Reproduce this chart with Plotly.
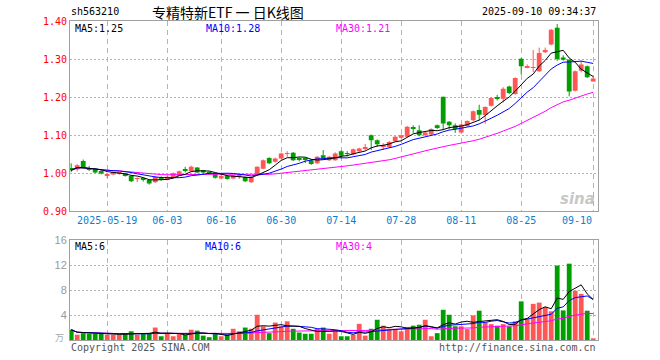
import plotly.graph_objects as go
import pandas as pd

# ---------------- data ----------------
dates = [
    "2025-05-09", "2025-05-12", "2025-05-13", "2025-05-14", "2025-05-15", "2025-05-16",
    "2025-05-19", "2025-05-20", "2025-05-21", "2025-05-22", "2025-05-23",
    "2025-05-26", "2025-05-27", "2025-05-28", "2025-05-29", "2025-05-30",
    "2025-06-03", "2025-06-04", "2025-06-05", "2025-06-06",
    "2025-06-09", "2025-06-10", "2025-06-11", "2025-06-12", "2025-06-13",
    "2025-06-16", "2025-06-17", "2025-06-18", "2025-06-19", "2025-06-20",
    "2025-06-23", "2025-06-24", "2025-06-25", "2025-06-26", "2025-06-27",
    "2025-06-30", "2025-07-01", "2025-07-02", "2025-07-03", "2025-07-04",
    "2025-07-07", "2025-07-08", "2025-07-09", "2025-07-10", "2025-07-11",
    "2025-07-14", "2025-07-15", "2025-07-16", "2025-07-17", "2025-07-18",
    "2025-07-21", "2025-07-22", "2025-07-23", "2025-07-24", "2025-07-25",
    "2025-07-28", "2025-07-29", "2025-07-30", "2025-07-31", "2025-08-01",
    "2025-08-04", "2025-08-05", "2025-08-06", "2025-08-07", "2025-08-08",
    "2025-08-11", "2025-08-12", "2025-08-13", "2025-08-14", "2025-08-15",
    "2025-08-18", "2025-08-19", "2025-08-20", "2025-08-21", "2025-08-22",
    "2025-08-25", "2025-08-26", "2025-08-27", "2025-08-28", "2025-08-29",
    "2025-09-01", "2025-09-02", "2025-09-03", "2025-09-04", "2025-09-05",
    "2025-09-08", "2025-09-09", "2025-09-10",
]

open_ = [
    1.014, 1.010, 1.032, 1.013, 1.012, 1.006, 0.994, 0.997, 0.998, 0.999,
    0.993, 0.985, 0.985, 0.982, 0.976, 0.990, 0.983, 0.988, 0.993, 1.010,
    1.005, 1.015, 1.008, 1.002, 0.999, 0.986, 0.993, 0.986, 0.991, 0.990,
    0.976, 0.997, 1.012, 1.040, 1.030, 1.039, 1.051, 1.054, 1.038, 1.038,
    1.034, 1.026, 1.047, 1.034, 1.034, 1.058, 1.053, 1.049, 1.058, 1.065,
    1.100, 1.087, 1.070, 1.069, 1.084, 1.093, 1.096, 1.119, 1.113, 1.100,
    1.102, 1.126, 1.201, 1.135, 1.126, 1.107, 1.124, 1.139, 1.166, 1.153,
    1.177, 1.200, 1.196, 1.228, 1.208, 1.301, 1.279, 1.277, 1.268, 1.318,
    1.338, 1.382, 1.304, 1.298, 1.217, 1.269, 1.281, 1.241,
]
high = [
    1.026, 1.024, 1.036, 1.019, 1.013, 1.008, 0.999, 1.004, 1.003, 1.001,
    0.995, 0.989, 0.988, 0.983, 0.992, 0.992, 0.993, 1.002, 1.007, 1.017,
    1.020, 1.016, 1.009, 1.005, 1.000, 0.995, 0.995, 0.996, 0.997, 0.991,
    0.991, 1.018, 1.036, 1.042, 1.041, 1.054, 1.058, 1.056, 1.042, 1.041,
    1.036, 1.045, 1.061, 1.045, 1.055, 1.060, 1.058, 1.065, 1.067, 1.077,
    1.102, 1.089, 1.079, 1.085, 1.098, 1.102, 1.124, 1.126, 1.126, 1.109,
    1.118, 1.128, 1.201, 1.137, 1.131, 1.130, 1.139, 1.165, 1.180, 1.176,
    1.200, 1.206, 1.226, 1.230, 1.252, 1.303, 1.286, 1.324, 1.330, 1.330,
    1.379, 1.392, 1.310, 1.300, 1.270, 1.296, 1.283, 1.256,
]
low = [
    1.003, 1.005, 1.012, 1.006, 1.000, 0.997, 0.987, 0.995, 0.996, 0.991,
    0.977, 0.977, 0.978, 0.970, 0.975, 0.980, 0.981, 0.986, 0.992, 1.002,
    1.003, 1.000, 1.000, 0.997, 0.986, 0.984, 0.983, 0.984, 0.985, 0.977,
    0.974, 0.996, 1.011, 1.024, 1.028, 1.038, 1.043, 1.032, 1.031, 1.027,
    1.022, 1.024, 1.036, 1.032, 1.033, 1.039, 1.044, 1.047, 1.056, 1.060,
    1.061, 1.069, 1.061, 1.067, 1.082, 1.091, 1.094, 1.105, 1.097, 1.098,
    1.100, 1.116, 1.113, 1.115, 1.106, 1.105, 1.122, 1.137, 1.139, 1.130,
    1.175, 1.191, 1.186, 1.208, 1.206, 1.259, 1.276, 1.266, 1.266, 1.316,
    1.336, 1.295, 1.296, 1.202, 1.215, 1.265, 1.250, 1.241,
]
close = [
    1.008, 1.021, 1.014, 1.011, 1.002, 0.999, 0.996, 1.003, 1.001, 0.993,
    0.979, 0.987, 0.983, 0.973, 0.990, 0.982, 0.991, 1.000, 1.005, 1.008,
    1.017, 1.002, 1.002, 1.000, 0.988, 0.993, 0.985, 0.995, 0.993, 0.979,
    0.990, 1.017, 1.034, 1.026, 1.039, 1.052, 1.053, 1.034, 1.036, 1.036,
    1.024, 1.043, 1.039, 1.043, 1.052, 1.046, 1.051, 1.063, 1.065, 1.067,
    1.087, 1.076, 1.072, 1.082, 1.096, 1.100, 1.122, 1.117, 1.100, 1.107,
    1.116, 1.119, 1.131, 1.126, 1.116, 1.128, 1.137, 1.163, 1.154, 1.174,
    1.198, 1.197, 1.222, 1.211, 1.250, 1.281, 1.282, 1.279, 1.316, 1.324,
    1.377, 1.300, 1.298, 1.215, 1.268, 1.286, 1.252, 1.249,
]
volume = [
    1.65, 0.85, 1.1, 1.0, 1.0, 1.0, 0.85, 0.85, 0.85, 1.1,
    1.4, 0.85, 1.0, 1.0, 2.0, 0.6, 1.0, 0.6, 1.0, 0.85,
    1.65, 1.5, 0.7, 0.45, 1.0, 0.6, 0.85, 1.8, 1.4, 2.0,
    1.8, 4.05, 2.2, 1.1, 2.8, 2.2, 3.0, 1.8, 1.2, 1.0,
    1.0, 1.8, 2.0, 1.0, 1.5, 0.6, 0.6, 0.85, 2.6, 0.7,
    1.8, 3.25, 2.3, 1.8, 1.8, 1.4, 2.1, 2.3, 2.45, 3.25,
    0.6, 1.1, 4.85, 4.05, 2.2, 2.2, 1.75, 3.95, 4.7, 2.8,
    2.55, 2.3, 2.55, 2.2, 3.0, 6.2, 3.35, 5.8, 6.0, 5.3,
    4.6, 11.95, 4.75, 12.25, 7.9, 7.4, 4.7, 0.2,
]

tick_dates = ["2025-05-19", "2025-06-03", "2025-06-16", "2025-06-30", "2025-07-14",
              "2025-07-28", "2025-08-11", "2025-08-25", "2025-09-10"]
tick_labels = ["2025-05-19", "06-03", "06-16", "06-30", "07-14",
               "07-28", "08-11", "08-25", ""]
last_label = "09-10"
price_ticks = [0.90, 1.00, 1.10, 1.20, 1.30, 1.40]
vol_ticks = [4, 8, 12, 16]

symbol = "sh563210"
title_text = "专精特新ETF 一 日K线图"
time_text = "2025-09-10 09:34:37"
price_ma_text = ["MA5:1.25", "MA10:1.28", "MA30:1.21"]
vol_ma_text = ["MA5:6", "MA10:6", "MA30:4"]

# ---------------- styling ----------------
UP = "#ff5656"
DOWN = "#009f00"
MONO = "DejaVu Sans Mono"
GRID = "#b4b4b4"
BORDER = "#a0a0a0"

up_flags = [c >= o for o, c in zip(open_, close)]
cols = [UP if u else DOWN for u in up_flags]

s_close = pd.Series(close)
s_vol = pd.Series(volume)
ma5 = s_close.rolling(5, min_periods=1).mean()
ma10 = s_close.rolling(10, min_periods=1).mean()
ma30 = s_close.rolling(30, min_periods=1).mean()
vma5 = s_vol.rolling(5, min_periods=1).mean()
vma10 = s_vol.rolling(10, min_periods=1).mean()
vma30 = s_vol.rolling(30, min_periods=1).mean()

fig = go.Figure()

# bodies (first, so category order follows dates)
body_h = [max(abs(c - o), 0.0014) for o, c in zip(open_, close)]
body_b = [min(o, c) if abs(c - o) >= 0.0014 else (o + c) / 2 - 0.0007 for o, c in zip(open_, close)]
fig.add_trace(go.Bar(x=dates, y=body_h, base=body_b, width=0.8,
                     marker=dict(color=cols, line=dict(width=0)), xaxis="x", yaxis="y"))

# wicks
for flag, col in ((True, UP), (False, DOWN)):
    wx, wy = [], []
    for d, h, l, u in zip(dates, high, low, up_flags):
        if u == flag:
            wx += [d, d, None]
            wy += [l, h, None]
    fig.add_trace(go.Scatter(x=wx, y=wy, mode="lines", line=dict(color=col, width=1),
                             hoverinfo="skip", xaxis="x", yaxis="y"))

# price MAs
for s, col in ((ma30, "#ff00ff"), (ma10, "#0000ff"), (ma5, "#000000")):
    fig.add_trace(go.Scatter(x=dates, y=s, mode="lines", line=dict(color=col, width=1),
                             xaxis="x", yaxis="y"))

# volume
fig.add_trace(go.Bar(x=dates, y=volume, width=0.8, marker=dict(color=cols, line=dict(width=0)),
                     xaxis="x2", yaxis="y2"))
for s, col in ((vma30, "#ff00ff"), (vma10, "#0000ff"), (vma5, "#000000")):
    fig.add_trace(go.Scatter(x=dates, y=s, mode="lines", line=dict(color=col, width=1),
                             xaxis="x2", yaxis="y2"))

L, R, T, B = 70, 62, 21, 20
W, H = 660, 360
PW, PH = W - L - R, H - T - B


def px(x):
    return (x - L) / PW


def py(y):
    return (H - B - y) / PH


xcommon = dict(type="category", categoryorder="array", categoryarray=dates,
               range=[-0.2, len(dates) - 0.2], tickvals=tick_dates, tickangle=0,
               automargin=False,
               showgrid=True, gridcolor=GRID, griddash="5px,4px", gridwidth=1,
               showline=True, linecolor=BORDER, linewidth=1, mirror=True,
               zeroline=False, ticks="", fixedrange=True)

fig.update_layout(
    width=W, height=H, margin=dict(l=L, r=R, t=T, b=B, autoexpand=False),
    paper_bgcolor="white", plot_bgcolor="white",
    showlegend=False, barmode="overlay",
    xaxis=dict(**xcommon, domain=[0, 1], anchor="y", ticktext=tick_labels,
               tickfont=dict(family=MONO, size=10, color="#0a7fd0")),
    yaxis=dict(domain=[py(211.3), 1], range=[0.90, 1.40], tickvals=price_ticks,
               ticktext=["%.2f" % v for v in price_ticks],
               tickfont=dict(family=MONO, size=10, color="#ff0000"),
               showgrid=True, gridcolor=GRID, griddash="2px,2px", automargin=False,
               showline=True, linecolor=BORDER, linewidth=1, mirror=True,
               zeroline=False, ticks="", fixedrange=True),
    xaxis2=dict(**xcommon, domain=[0, 1], anchor="y2", matches="x", showticklabels=False),
    yaxis2=dict(domain=[0, py(240.3)], range=[0, 16], tickvals=vol_ticks,
                ticktext=[str(v) for v in vol_ticks], automargin=False,
                tickfont=dict(family="Liberation Sans", size=11, color="#9a9a9a"),
                showgrid=True, gridcolor=GRID, griddash="2px,2px",
                showline=True, linecolor=BORDER, linewidth=1, mirror=True,
                zeroline=False, ticks="", fixedrange=True),
)

ann = []


def add(text, x, y, xanchor="left", size=10, color="#000", family=MONO, **kw):
    ann.append(dict(text=text, x=px(x), y=py(y), xref="paper", yref="paper",
                    xanchor=xanchor, yanchor="middle", showarrow=False,
                    font=dict(family=family, size=size, color=color, **kw)))


add(symbol, 69, 12)
add(title_text, 150, 12, size=14, family="Noto Sans CJK SC")
add(time_text, 598, 12, xanchor="right")
add(price_ma_text[0], 73, 28)
add(price_ma_text[1], 204, 28, color="#0000ff")
add(price_ma_text[2], 334, 28, color="#ff00ff")
add(vol_ma_text[0], 73, 247)
add(vol_ma_text[1], 203, 247, color="#0000ff")
add(vol_ma_text[2], 334, 247, color="#ff00ff")
add(last_label, 577, 221, xanchor="center", color="#0a7fd0")
add("Copyright 2025 SINA.COM", 69, 347, color="#555555")
add("http://finance.sina.com.cn", 598, 347, xanchor="right", color="#555555")
add("万", 66, 337, xanchor="right", size=9, color="#a8a8a8", family="Noto Sans CJK SC")
add("sina", 597, 199, xanchor="right", size=15, color="rgba(150,150,150,0.55)",
    family="DejaVu Sans", weight="bold", style="italic")
fig.update_layout(annotations=ann)

fig.write_html("out.html", config={"displayModeBar": False},
               post_script="document.body.style.margin='0';document.body.style.overflow='hidden';")
